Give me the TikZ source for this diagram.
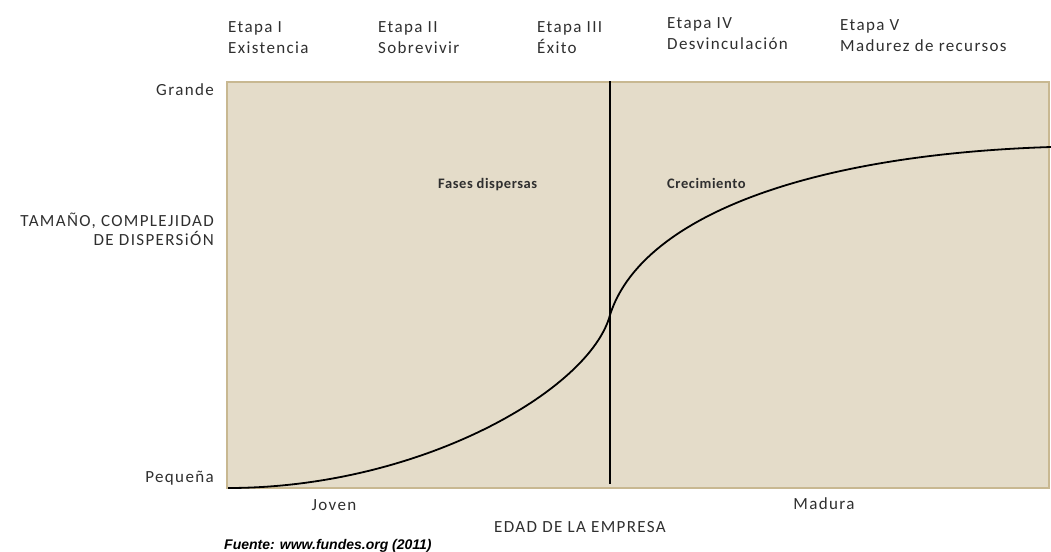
\documentclass[tikz,border=0pt]{standalone}
\usepackage{fontspec}
\usepackage{xcolor}
\newfontfamily\labelfont[LetterSpace=8]{Carlito}
\newfontfamily\phasefont[LetterSpace=4]{Carlito}
\newfontfamily\notefont{Liberation Sans}
\definecolor{panel}{HTML}{E4DCC9}
\definecolor{rim}{HTML}{C8B891}
\definecolor{ink}{HTML}{2F2F2F}
\tikzstyle{etapa}=[anchor=north west, inner sep=0pt, align=left, text=ink, font=\labelfont\fontsize{17}{21}\selectfont]
\tikzstyle{axis label}=[inner sep=0pt, text=ink, font=\labelfont\fontsize{17}{19}\selectfont]
\tikzstyle{phase}=[anchor=base west, inner sep=0pt, text=ink, font=\phasefont\bfseries\fontsize{14.5}{17}\selectfont]

\begin{document}
\begin{tikzpicture}[x=1pt, y=-1pt]
          \useasboundingbox (0,0) rectangle (1051,551);

          % panel
          \draw[rim, line width=2.5pt, fill=panel] (227,82) rectangle (1049,488);

          \coordinate (top)    at (610,81);
          \coordinate (bottom) at (610,484);
          \draw[line width=2pt] (top) -- (bottom);

          \draw[line width=1.8pt] (228,488) .. controls (420,488) and (590,390) .. (610,315)
                                            .. controls (640,220) and (800,155) .. (1051,147);

          % stages
          \node[etapa] (e1) at (228,21) {Etapa I\\Existencia};
          \node[etapa] (e2) at (378,21) {Etapa II\\Sobrevivir};
          \node[etapa] (e3) at (537,21) {Etapa III\\Éxito};
          \node[etapa] (e4) at (667,17) {Etapa IV\\Desvinculación};
          \node[etapa] (e5) at (840,19) {Etapa V\\Madurez de recursos};

          % vertical axis
          \node[axis label, anchor=base east] (big)   at (214,95)  {Grande};
          \node[axis label, anchor=base east] (small) at (214,482) {Pequeña};
          \node[axis label, anchor=base east, align=right] (size) at (214,245)
            {TAMAÑO, COMPLEJIDAD\\DE DISPERSiÓN};

          % phases
          \node[phase] (disp) at (438,188) {Fases dispersas};
          \node[phase] (grow) at (667,188) {Crecimiento};

          % horizontal axis
          \node[axis label, anchor=base] (young)  at (334,510) {Joven};
          \node[axis label, anchor=base] (mature) at (824,509) {Madura};
          \node[axis label, anchor=base] (age)    at (580,532) {EDAD DE LA EMPRESA};

          \node[anchor=base west, inner sep=0pt, font=\notefont\bfseries\itshape\fontsize{14}{17}\selectfont]
            (src) at (224,549) {Fuente: www.fundes.org (2011)};
        \end{tikzpicture}
\end{document}
